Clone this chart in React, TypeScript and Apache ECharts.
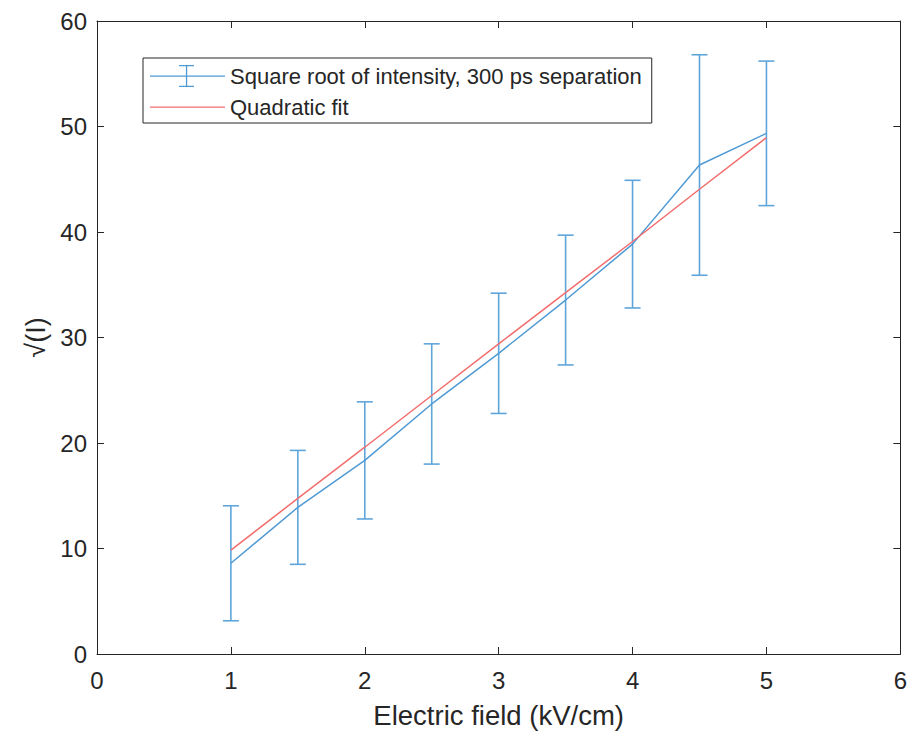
import React, { useEffect, useRef } from "react";
import * as echarts from "echarts";

const xValues = [1, 1.5, 2, 2.5, 3, 3.5, 4, 4.5, 5];
const sqrtIntensity = [8.6, 13.9, 18.35, 23.7, 28.5, 33.55, 38.85, 46.35, 49.35];
const errorHalfWidth = [5.45, 5.4, 5.55, 5.7, 5.7, 6.15, 6.05, 10.45, 6.85];
const quadraticFit = [9.85, 14.75, 19.6, 24.5, 29.4, 34.25, 39.1, 44.05, 48.95];
const seriesNames = ["Square root of intensity, 300 ps separation", "Quadratic fit"];

const FONT = "'Liberation Sans', Arial, Helvetica, sans-serif";
const AXIS_COLOR = "#262626";
const BLUE = "#4f9ad4";
const BAR_BLUE = "#5ea5db";
const RED = "#f26d6d";

export default function App() {
  const ref = useRef<HTMLDivElement>(null);
  useEffect(() => {
    if (!ref.current) return;
    const chart = echarts.init(ref.current, undefined, { renderer: "svg" });
    const lineData = xValues.map((x, i) => [x, sqrtIntensity[i]]);
    const fitData = xValues.map((x, i) => [x, quadraticFit[i]]);
    const errData = xValues.map((x, i) => [x, sqrtIntensity[i] - errorHalfWidth[i], sqrtIntensity[i] + errorHalfWidth[i]]);
    const axisCommon = {
      axisLine: { show: true, onZero: false, lineStyle: { color: AXIS_COLOR, width: 1 } },
      axisTick: { show: true, inside: true, length: 7, lineStyle: { color: AXIS_COLOR } },
      splitLine: { show: false },
    };
    chart.setOption({
      animation: false,
      grid: { left: 97, right: 7, top: 21, bottom: 77, containLabel: false },
      legend: {
        data: [
          { name: seriesNames[0], icon: "path://M0,10.4h75v1.3h-75z M29,0h15v1.3h-15z M35.9,0h1.3v22h-1.3z M29,20.7h15v1.3h-15z" },
          { name: seriesNames[1], icon: "path://M0,10.4h75v1.3h-75z M0,0h0.01v0.01h-0.01z M0,21.99h0.01v0.01h-0.01z" },
        ],
        orient: "vertical",
        left: 143,
        top: 58,
        padding: [7, 10, 5, 7],
        itemWidth: 75,
        itemHeight: 22,
        itemGap: 9,
        borderColor: AXIS_COLOR,
        borderWidth: 1,
        borderRadius: 0,
        backgroundColor: "#ffffff",
        selectedMode: false,
        textStyle: { fontFamily: FONT, fontSize: 22, color: AXIS_COLOR },
      },
      xAxis: [
        {
          type: "value",
          min: 0,
          max: 6,
          interval: 1,
          position: "bottom",
          name: "Electric field (kV/cm)",
          nameLocation: "middle",
          nameGap: 47,
          nameTextStyle: { fontFamily: FONT, fontSize: 27.5, color: AXIS_COLOR },
          axisLabel: { margin: 14, fontFamily: FONT, fontSize: 24, color: AXIS_COLOR },
          ...axisCommon,
        },
        {
          type: "value",
          min: 0,
          max: 6,
          interval: 1,
          position: "top",
          axisLabel: { show: false },
          ...axisCommon,
        },
      ],
      yAxis: [
        {
          type: "value",
          min: 0,
          max: 60,
          interval: 10,
          position: "left",
          name: "√(I)",
          nameLocation: "middle",
          nameGap: 44,
          nameRotate: 90,
          nameTextStyle: { fontFamily: FONT, fontSize: 27, color: AXIS_COLOR },
          axisLabel: { margin: 10, fontFamily: FONT, fontSize: 24, color: AXIS_COLOR },
          ...axisCommon,
        },
        {
          type: "value",
          min: 0,
          max: 60,
          interval: 10,
          position: "right",
          axisLabel: { show: false },
          ...axisCommon,
        },
      ],
      series: [
        {
          name: seriesNames[0],
          type: "line",
          data: lineData,
          showSymbol: false,
          symbol: "none",
          lineStyle: { color: BLUE, width: 1.5 },
          itemStyle: { color: BLUE },
          z: 3,
        },
        {
          name: "errorbars",
          type: "custom",
          data: errData,
          z: 2,
          renderItem: (params: any, api: any) => {
            const x = api.value(0);
            const lo = api.coord([x, api.value(1)]);
            const hi = api.coord([x, api.value(2)]);
            const half = 8;
            const style = { stroke: BAR_BLUE, lineWidth: 1.6 };
            return {
              type: "group",
              children: [
                { type: "line", shape: { x1: lo[0], y1: lo[1], x2: hi[0], y2: hi[1] }, style },
                { type: "line", shape: { x1: hi[0] - half, y1: hi[1], x2: hi[0] + half, y2: hi[1] }, style },
                { type: "line", shape: { x1: lo[0] - half, y1: lo[1], x2: lo[0] + half, y2: lo[1] }, style },
              ],
            };
          },
        },
        {
          name: seriesNames[1],
          type: "line",
          data: fitData,
          showSymbol: false,
          symbol: "none",
          lineStyle: { color: RED, width: 1.5 },
          itemStyle: { color: RED },
          z: 4,
        },
      ],
    });
    return () => chart.dispose();
  }, []);
  return (
    <div
      ref={ref}
      style={{ position: "fixed", left: 0, top: 0, width: 910, height: 734, background: "#ffffff" }}
    />
  );
}
